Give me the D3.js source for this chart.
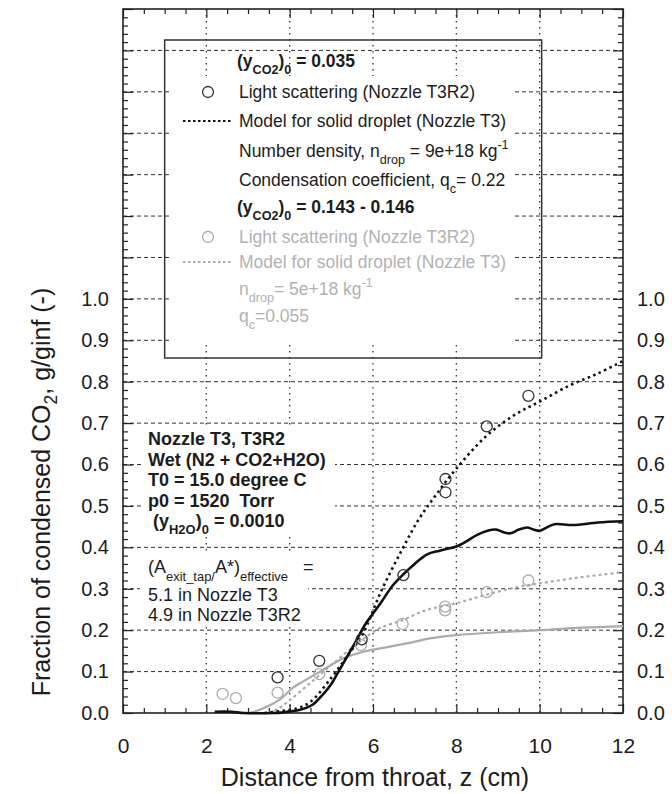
<!DOCTYPE html>
<html><head><meta charset="utf-8">
<script src="https://cdn.jsdelivr.net/npm/d3@7"></script>
<style>
body{margin:0;background:#fff}
svg{display:block}
text{font-family:"Liberation Sans",Arial,Helvetica,sans-serif;white-space:pre}
</style>
</head><body>
<svg id="chart" width="672" height="794"></svg>
<script>
// ---------------- data ----------------
const xTickValues = [0, 2, 4, 6, 8, 10, 12];
const yTickLabels = [0.0, 0.1, 0.2, 0.3, 0.4, 0.5, 0.6, 0.7, 0.8, 0.9, 1.0];

// Light scattering, (yCO2)0 = 0.035 (black circles)
const lsDryZ = [3.71, 4.71, 5.73, 6.73, 7.74, 7.74, 8.73, 9.73];
const lsDryY = [0.086, 0.126, 0.178, 0.333, 0.533, 0.565, 0.692, 0.766];
// Light scattering, (yCO2)0 = 0.143-0.146 (grey circles)
const lsWetZ = [2.39, 2.71, 3.71, 4.71, 5.71, 6.71, 7.73, 7.73, 8.73, 9.73];
const lsWetY = [0.046, 0.036, 0.049, 0.094, 0.164, 0.215, 0.257, 0.248, 0.292, 0.320];
// Model for solid droplet, (yCO2)0 = 0.035 (black dotted)
const modelDryZ = [3.4, 3.8, 4.2, 4.5, 5.0, 5.4, 5.75, 6.2, 6.7, 7.1, 7.5, 8.0, 8.7, 9.4, 10.0, 10.7, 11.4, 12.0];
const modelDryY = [0, 0.005, 0.012, 0.027, 0.085, 0.14, 0.19, 0.295, 0.395, 0.468, 0.525, 0.59, 0.667, 0.72, 0.752, 0.79, 0.82, 0.85];
// Model for solid droplet, (yCO2)0 = 0.143-0.146 (grey dotted)
const modelWetZ = [3.5, 3.75, 4.0, 4.49, 5.05, 5.73, 6.17, 6.73, 7.29, 8.0, 8.7, 9.5, 10.0, 11.0, 12.0];
const modelWetY = [0, 0.012, 0.031, 0.072, 0.12, 0.176, 0.205, 0.225, 0.249, 0.265, 0.285, 0.305, 0.313, 0.328, 0.34];
// Measured curve, (yCO2)0 = 0.035 (black solid)
const measDryZ = [2.2, 2.6, 2.9, 3.6, 3.8, 4.0, 4.25, 4.55, 4.8, 5.0, 5.2, 5.4, 5.6, 5.8, 6.0, 6.2, 6.45, 6.73, 7.0, 7.3, 7.6, 8.0, 8.2, 8.5, 8.75, 8.95, 9.15, 9.3, 9.5, 9.7, 9.85, 10.0, 10.15, 10.35, 10.8, 11.4, 12.0];
const measDryY = [0.003, 0.003, 0.0, 0.0, 0.001, 0.004, 0.008, 0.02, 0.045, 0.07, 0.105, 0.14, 0.175, 0.212, 0.24, 0.268, 0.305, 0.335, 0.36, 0.383, 0.392, 0.402, 0.412, 0.43, 0.44, 0.443, 0.436, 0.434, 0.443, 0.448, 0.443, 0.44, 0.447, 0.456, 0.454, 0.46, 0.463];
// Measured curve, (yCO2)0 = 0.143-0.146 (grey solid)
const measWetZ = [3.0, 3.2, 3.45, 3.77, 4.09, 4.25, 4.73, 5.29, 5.77, 6.17, 6.81, 7.37, 8.0, 9.0, 10.0, 11.0, 12.0];
const measWetY = [0.0, 0.005, 0.015, 0.033, 0.062, 0.072, 0.1, 0.132, 0.148, 0.156, 0.168, 0.18, 0.188, 0.195, 0.2, 0.206, 0.21];

// ---------------- layout ----------------
const svg = d3.select("#chart");
const L = 123, R = 623, T = 9, B = 713;
const x = d3.scaleLinear().domain([0, 12]).range([L, R]);
const y = d3.scaleLinear().domain([0, 1.7]).range([B, T]);
const DARK = "#1c1c1c", GREY = "#ababab", GREYTXT = "#b2b2b2";

const yMajor = d3.range(0, 18).map(i => +(i * 0.1).toFixed(1));
const yMinor = d3.range(0, 86).map(i => +(i * 0.02).toFixed(2)).filter(v => Math.abs(v * 10 - Math.round(v * 10)) > 1e-6);
const xMinor = d3.range(0, 25).map(i => i * 0.5).filter(v => v % 2 !== 0);

// grid
const grid = svg.append("g");
grid.selectAll("line.h").data(yMajor.filter(v => v > 0 && v < 1.7)).join("line")
  .attr("x1", L).attr("x2", R).attr("y1", d => y(d)).attr("y2", d => y(d))
  .attr("stroke", "#333").attr("stroke-width", 1).attr("stroke-dasharray", "4,3");
grid.selectAll("line.v").data(xTickValues.filter(v => v > 0 && v < 12)).join("line")
  .attr("y1", T).attr("y2", B).attr("x1", d => x(d)).attr("x2", d => x(d))
  .attr("stroke", "#333").attr("stroke-width", 1.3).attr("stroke-dasharray", "1.5,4.5");

// white backgrounds behind text blocks (they hide the grid)
svg.append("rect").attr("x", 172).attr("y", 76).attr("width", 343).attr("height", 266).attr("fill", "#fff");
svg.append("rect").attr("x", 143).attr("y", 428).attr("width", 192).attr("height", 108).attr("fill", "#fff");
svg.append("rect").attr("x", 140).attr("y", 553).attr("width", 168).attr("height", 73).attr("fill", "#fff");

// legend frame
svg.append("rect").attr("x", x(1)).attr("y", 40).attr("width", x(10) - x(1) + 2).attr("height", 318)
  .attr("fill", "none").attr("stroke", "#333").attr("stroke-width", 1.5);

// axes
function styleAxis(g, fs) {
  g.select(".domain").remove();
  g.selectAll("line").attr("stroke", "#222").attr("stroke-width", 1.2);
  g.selectAll("text").attr("font-size", fs).attr("fill", DARK)
    .attr("font-family", '"Liberation Sans", Arial, sans-serif');
}
svg.append("g").attr("transform", `translate(0,${B})`)
  .call(d3.axisBottom(x).tickValues(xTickValues).tickSize(-9).tickPadding(25).tickFormat(d3.format("d")))
  .call(g => styleAxis(g, 21));
svg.append("g").attr("transform", `translate(0,${B})`)
  .call(d3.axisBottom(x).tickValues(xMinor).tickSize(-5).tickFormat(""))
  .call(g => styleAxis(g, 21));
svg.append("g").attr("transform", `translate(0,${T})`)
  .call(d3.axisTop(x).tickValues(xTickValues).tickSize(-9).tickFormat(""))
  .call(g => styleAxis(g, 21));
svg.append("g").attr("transform", `translate(0,${T})`)
  .call(d3.axisTop(x).tickValues(xMinor).tickSize(-5).tickFormat(""))
  .call(g => styleAxis(g, 21));

const yLabelFmt = d => yTickLabels.some(v => Math.abs(v - d) < 1e-6) ? d3.format(".1f")(d) : "";
svg.append("g").attr("transform", `translate(${L},0)`)
  .call(d3.axisLeft(y).tickValues(yMajor).tickSize(-10).tickPadding(14).tickFormat(yLabelFmt))
  .call(g => styleAxis(g, 20));
svg.append("g").attr("transform", `translate(${L},0)`)
  .call(d3.axisLeft(y).tickValues(yMinor).tickSize(-5).tickFormat(""))
  .call(g => styleAxis(g, 20));
svg.append("g").attr("transform", `translate(${R},0)`)
  .call(d3.axisRight(y).tickValues(yMajor).tickSize(-10).tickPadding(14).tickFormat(yLabelFmt))
  .call(g => styleAxis(g, 20));
svg.append("g").attr("transform", `translate(${R},0)`)
  .call(d3.axisRight(y).tickValues(yMinor).tickSize(-5).tickFormat(""))
  .call(g => styleAxis(g, 20));

// plot frame
svg.append("rect").attr("x", L).attr("y", T).attr("width", R - L).attr("height", B - T)
  .attr("fill", "none").attr("stroke", "#222").attr("stroke-width", 1.6);

// ---------------- series ----------------
const plot = svg.append("g");
const line = d3.line().x(d => x(d[0])).y(d => y(d[1])).curve(d3.curveCatmullRom.alpha(0.5));
const zip = (a, b) => a.map((v, i) => [v, b[i]]);

plot.append("path").datum(zip(measWetZ, measWetY)).attr("d", line)
  .attr("fill", "none").attr("stroke", GREY).attr("stroke-width", 2.2);
plot.append("path").datum(zip(modelWetZ, modelWetY)).attr("d", line)
  .attr("fill", "none").attr("stroke", GREY).attr("stroke-width", 2.2).attr("stroke-dasharray", "3,3");
plot.append("path").datum(zip(measDryZ, measDryY)).attr("d", line)
  .attr("fill", "none").attr("stroke", "#111").attr("stroke-width", 2.6);
plot.append("path").datum(zip(modelDryZ, modelDryY)).attr("d", line)
  .attr("fill", "none").attr("stroke", "#111").attr("stroke-width", 2.6).attr("stroke-dasharray", "2.5,3.5");

plot.selectAll("circle.w").data(zip(lsWetZ, lsWetY)).join("circle")
  .attr("cx", d => x(d[0])).attr("cy", d => y(d[1])).attr("r", 5.5)
  .attr("fill", "none").attr("stroke", GREY).attr("stroke-width", 1.3);
plot.selectAll("circle.d").data(zip(lsDryZ, lsDryY)).join("circle")
  .attr("cx", d => x(d[0])).attr("cy", d => y(d[1])).attr("r", 5.5)
  .attr("fill", "none").attr("stroke", "#333").attr("stroke-width", 1.3);

// ---------------- texts ----------------
function rich(g, tx, ty, parts, opt = {}) {
  const t = g.append("text").attr("x", tx).attr("y", ty)
    .attr("font-size", opt.size || 17.5).attr("fill", opt.color || DARK)
    .attr("font-weight", opt.bold ? "bold" : "normal");
  let cur = 0;
  parts.forEach(p => {
    const shift = p.sub ? (opt.subShift || 7) : p.sup ? -8 : 0;
    const ts = t.append("tspan").attr("dy", shift - cur).text(p.t);
    if (p.sub || p.sup) ts.attr("font-size", "0.72em");
    cur = shift;
  });
  return t;
}

const lg = svg.append("g");
rich(lg, 237, 67, [{t: "(y"}, {t: "CO2", sub: true}, {t: ")"}, {t: "0", sub: true}, {t: " = 0.035"}], {bold: true});
lg.append("circle").attr("cx", 208).attr("cy", 92).attr("r", 5.5).attr("fill", "none").attr("stroke", "#333").attr("stroke-width", 1.3);
rich(lg, 239, 98, [{t: "Light scattering (Nozzle T3R2)"}]);
lg.append("line").attr("x1", 183).attr("x2", 233).attr("y1", 121).attr("y2", 121)
  .attr("stroke", "#111").attr("stroke-width", 2).attr("stroke-dasharray", "2.5,2.5");
rich(lg, 239, 127, [{t: "Model for solid droplet (Nozzle T3)"}]);
rich(lg, 239, 157, [{t: "Number density, n"}, {t: "drop", sub: true}, {t: " = 9e+18 kg"}, {t: "-1", sup: true}]);
rich(lg, 239, 186, [{t: "Condensation coefficient, q"}, {t: "c", sub: true}, {t: "= 0.22"}]);
rich(lg, 237, 213, [{t: "(y"}, {t: "CO2", sub: true}, {t: ")"}, {t: "0", sub: true}, {t: " = 0.143 - 0.146"}], {bold: true});
lg.append("circle").attr("cx", 208).attr("cy", 237).attr("r", 5.5).attr("fill", "none").attr("stroke", GREY).attr("stroke-width", 1.3);
rich(lg, 239, 243, [{t: "Light scattering (Nozzle T3R2)"}], {color: GREYTXT});
lg.append("line").attr("x1", 183).attr("x2", 233).attr("y1", 262).attr("y2", 262)
  .attr("stroke", GREY).attr("stroke-width", 2).attr("stroke-dasharray", "2.5,2.5");
rich(lg, 239, 268, [{t: "Model for solid droplet (Nozzle T3)"}], {color: GREYTXT});
rich(lg, 239, 295, [{t: "n"}, {t: "drop", sub: true}, {t: "= 5e+18 kg"}, {t: "-1", sup: true}], {color: GREYTXT});
rich(lg, 239, 322, [{t: "q"}, {t: "c", sub: true}, {t: "=0.055"}], {color: GREYTXT});

const an = svg.append("g");
rich(an, 148, 445, [{t: "Nozzle T3, T3R2"}], {bold: true, size: 18});
rich(an, 148, 466, [{t: "Wet (N2 + CO2+H2O)"}], {bold: true, size: 18});
rich(an, 148, 486, [{t: "T0 = 15.0 degree C"}], {bold: true, size: 18});
rich(an, 148, 507, [{t: "p0 = 1520  Torr"}], {bold: true, size: 18});
rich(an, 148, 527, [{t: " (y"}, {t: "H2O", sub: true}, {t: ")"}, {t: "0", sub: true}, {t: " = 0.0010"}], {bold: true, size: 18});
rich(an, 148, 573, [{t: "(A"}, {t: "exit_tap/", sub: true}, {t: "A*)"}, {t: "effective", sub: true}, {t: "   ="}], {subShift: 8, size: 18});
rich(an, 148, 601, [{t: "5.1 in Nozzle T3"}], {size: 18});
rich(an, 148, 621, [{t: "4.9 in Nozzle T3R2"}], {size: 18});

// axis titles
svg.append("text").attr("x", (L + R) / 2 + 2).attr("y", 786).attr("text-anchor", "middle")
  .attr("font-size", 25).attr("fill", DARK).text("Distance from throat, z (cm)");
const yt = svg.append("text").attr("transform", "translate(50,492) rotate(-90)")
  .attr("text-anchor", "middle").attr("font-size", 25).attr("fill", DARK);
yt.append("tspan").text("Fraction of condensed CO");
yt.append("tspan").attr("font-size", "0.7em").attr("dy", 7).text("2");
yt.append("tspan").attr("dy", -7).text(", g/ginf (-)");
</script>
</body></html>
